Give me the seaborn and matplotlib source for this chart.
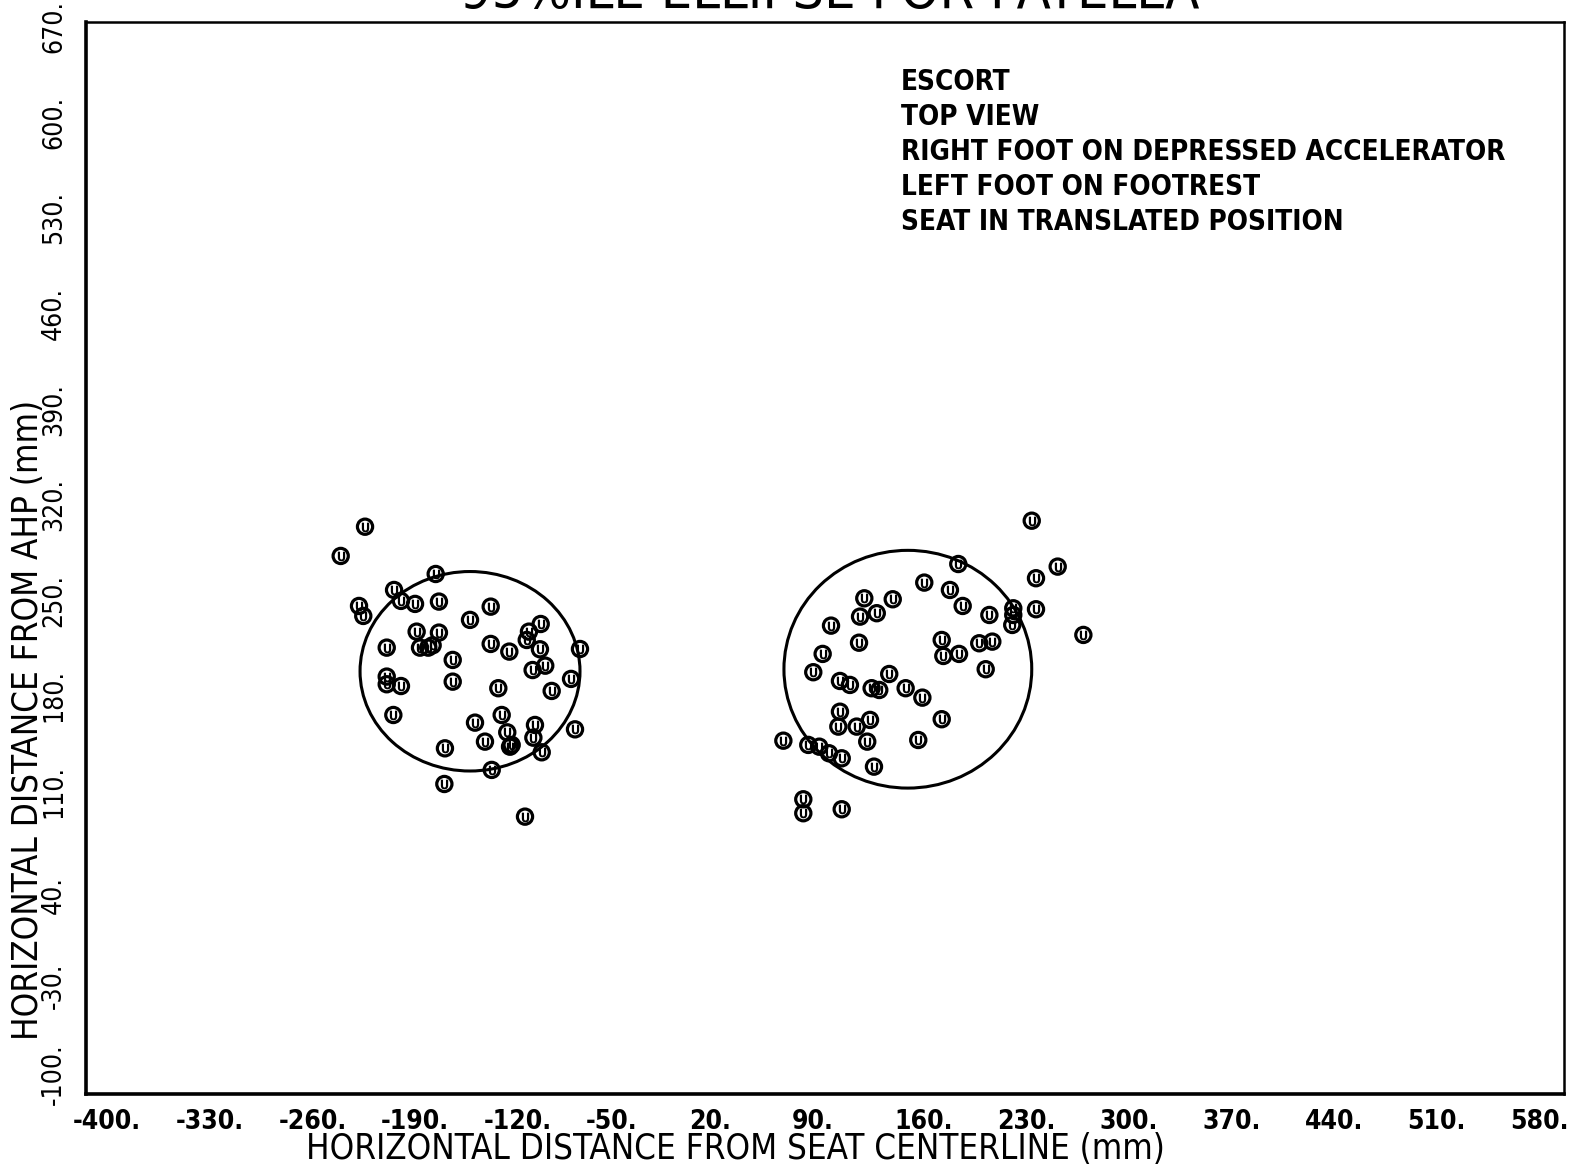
import pandas as pd
import matplotlib
matplotlib.use("Agg")
import matplotlib.pyplot as plt
import matplotlib.transforms as mtransforms
from matplotlib.patches import Ellipse
import seaborn as sns

# === DATA (mm) ===
left_x = [-209.7, -226.3, -161.5, -189.9, -185.2, -175.6, -159.3, -213.8, -210.9, -124.0,
          -138.1, -89.9, -97.9, -99.4, -174.5, -159.3, -172.2, -166.6, -163.6, -194.9,
          -124.0, -111.3, -90.4, -63.1, -149.9, -86.8, -95.4, -69.2, -194.9, -194.9,
          -185.2, -149.9, -118.8, -82.4, -190.4, -116.5, -134.7, -93.8, -112.7, -94.9,
          -66.5, -127.9, -110.8, -109.7, -89.2, -155.2, -123.3, -155.6, -100.6]
left_y = [315.2, 293.8, 280.6, 268.9, 260.9, 258.7, 260.4, 257.2, 249.9, 256.7,
          247.0, 244.0, 238.4, 232.3, 238.4, 237.7, 226.7, 226.7, 228.4, 226.7,
          229.4, 223.8, 225.5, 225.7, 217.7, 213.5, 210.3, 203.8, 205.5, 199.9,
          198.6, 201.8, 197.0, 195.0, 177.4, 177.4, 171.8, 170.1, 164.7, 160.8,
          166.9, 157.9, 154.2, 155.5, 150.1, 153.0, 137.2, 126.9, 103.0]
right_x = [245.0, 262.7, 247.9, 194.9, 171.7, 189.2, 197.9, 216.1, 232.4, 232.4,
           231.7, 247.9, 280.2, 130.8, 150.2, 139.3, 127.9, 108.1, 127.2, 183.6,
           209.2, 218.1, 184.7, 195.4, 102.4, 96.0, 213.6, 114.2, 121.0, 135.8,
           141.0, 147.8, 159.0, 170.4, 114.2, 113.1, 125.6, 134.7, 183.6, 167.6,
           132.8, 75.6, 92.6, 100.1, 106.7, 115.4, 137.4, 89.2, 89.2, 115.4]
right_y = [319.6, 286.0, 277.5, 287.9, 274.3, 268.9, 257.2, 250.6, 255.5, 250.6,
           243.3, 254.8, 236.0, 262.8, 262.1, 251.9, 249.4, 242.8, 230.3, 232.3,
           229.9, 231.1, 220.6, 222.1, 222.1, 208.7, 210.9, 202.3, 199.4, 197.0,
           195.7, 207.4, 197.0, 190.1, 179.8, 168.9, 168.9, 173.8, 174.3, 159.1,
           157.9, 158.6, 155.5, 154.2, 149.4, 145.7, 139.6, 115.7, 105.5, 108.4]

# 95%ile ellipses (left foot, right foot)
ell_cx = [-138.1, 160.5]
ell_cy = [209.4, 210.9]
ell_w = [150, 169]
ell_h = [146, 174]

x_ticks = [-400, -330, -260, -190, -120, -50, 20, 90, 160, 230, 300, 370, 440, 510, 580]
y_ticks = [-100, -30, 40, 110, 180, 250, 320, 390, 460, 530, 600, 670]

title = "95%ILE ELLIPSE FOR PATELLA"
notes = ["ESCORT", "TOP VIEW", "RIGHT FOOT ON DEPRESSED ACCELERATOR",
         "LEFT FOOT ON FOOTREST", "SEAT IN TRANSLATED POSITION"]

# === PLOT ===
sns.set_theme(style="white")
plt.rcParams["font.family"] = ["DejaVu Sans"]
plt.rcParams["font.stretch"] = "condensed"
for key in ["text.color", "xtick.color", "ytick.color", "axes.labelcolor"]:
    plt.rcParams[key] = "black"

df = pd.DataFrame({"x": left_x + right_x, "y": left_y + right_y})

W, H = 1569, 1169
fig = plt.figure(figsize=(W / 100, H / 100), dpi=100)
ax = fig.add_axes([86 / W, 75 / H, (1564 - 86) / W, (1094 - 22) / H])

sns.scatterplot(data=df, x="x", y="y", ax=ax, s=120, marker="o",
                facecolors="none", edgecolor="black", linewidth=2.3, legend=False)
sns.scatterplot(data=df, x="x", y="y", ax=ax, s=48, marker=r"$\mathbf{U}$",
                color="black", linewidth=0, legend=False)

for cx, cy, w, h in zip(ell_cx, ell_cy, ell_w, ell_h):
    ax.add_patch(Ellipse((cx, cy), w, h, fill=False, edgecolor="black", linewidth=2.2))

ax.set_xlim(-400, 608)
ax.set_ylim(-100, 684.6)
ax.set_xticks(x_ticks)
ax.set_xticklabels([f"{v}." for v in x_ticks], fontsize=19, fontweight="bold", ha="left")
ax.set_yticks(y_ticks)
ax.set_yticklabels([f"{v}." for v in y_ticks], fontsize=19, rotation=90, va="bottom")
ax.tick_params(axis="x", direction="inout", length=9, width=2, pad=6)
ax.tick_params(axis="y", direction="inout", length=9, width=2, pad=9)
ax.set_xlabel("")
ax.set_ylabel("")

# plotter labels start a little before their tick
shift_x = mtransforms.ScaledTranslation(-13 / 100, 0, fig.dpi_scale_trans)
for lbl in ax.get_xticklabels():
    lbl.set_transform(lbl.get_transform() + shift_x)
shift_y = mtransforms.ScaledTranslation(0, -11 / 100, fig.dpi_scale_trans)
for lbl in ax.get_yticklabels():
    lbl.set_transform(lbl.get_transform() + shift_y)

for side in ["left", "bottom"]:
    ax.spines[side].set_linewidth(2.6)
for side in ["top", "right"]:
    ax.spines[side].set_linewidth(1.8)
for sp in ax.spines.values():
    sp.set_color("black")

fig.text(735 / W, 1 - 1149 / H, "HORIZONTAL DISTANCE FROM SEAT CENTERLINE (mm)",
         fontsize=25, ha="center", va="center")
fig.text(28 / W, 1 - 720 / H, "HORIZONTAL DISTANCE FROM AHP (mm)",
         fontsize=25, ha="center", va="center", rotation=90)
fig.text(830 / W, 1 - 8 / H, title, fontsize=40, ha="center", va="baseline")

for i, line in enumerate(notes):
    fig.text(901 / W, 1 - (82 + 35 * i) / H, line, fontsize=20,
             fontweight="bold", ha="left", va="center")

plt.savefig("out.png", dpi=100)
